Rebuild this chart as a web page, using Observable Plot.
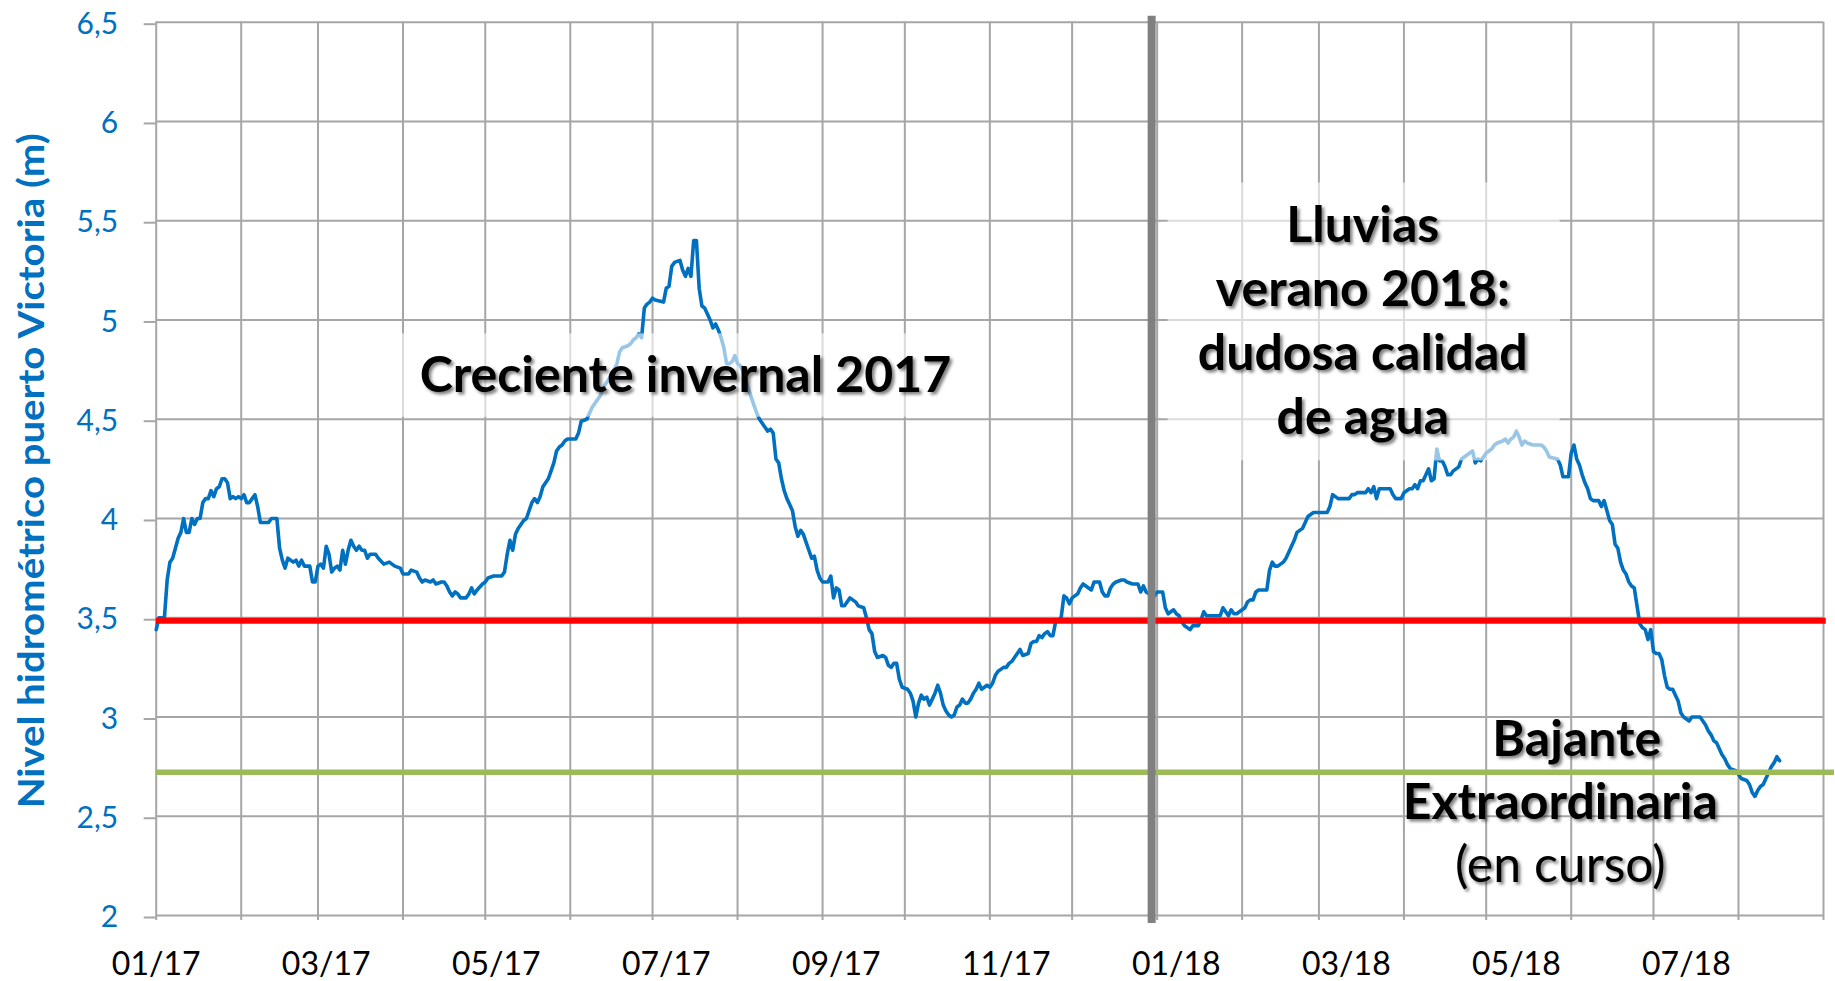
<!DOCTYPE html>
<html>
<head>
<meta charset="utf-8">
<script src="https://cdn.jsdelivr.net/npm/d3@7"></script>
<script src="https://cdn.jsdelivr.net/npm/@observablehq/plot@0.6"></script>
<style>
  html, body { margin: 0; padding: 0; background: #ffffff; }
  #chart svg { display: block; }
</style>
</head>
<body>
<div id="chart"></div>
<script>
// ---- Series: daily river level, Puerto Victoria (m) ----
const dates = [
"2017-01-01","2017-01-02","2017-01-04","2017-01-05","2017-01-06","2017-01-07","2017-01-08","2017-01-09","2017-01-10","2017-01-11",
"2017-01-12","2017-01-13","2017-01-14","2017-01-15","2017-01-16","2017-01-17","2017-01-18","2017-01-19","2017-01-20","2017-01-21",
"2017-01-22","2017-01-23","2017-01-24","2017-01-25","2017-01-26","2017-01-27","2017-01-28","2017-01-29","2017-01-30","2017-01-31",
"2017-02-01","2017-02-02","2017-02-03","2017-02-04","2017-02-05","2017-02-06","2017-02-07","2017-02-08","2017-02-11","2017-02-12",
"2017-02-14","2017-02-15","2017-02-16","2017-02-17","2017-02-18","2017-02-20","2017-02-21","2017-02-22","2017-02-23","2017-02-24",
"2017-02-26","2017-02-27","2017-02-28","2017-03-01","2017-03-02","2017-03-03","2017-03-04","2017-03-05","2017-03-06","2017-03-07",
"2017-03-08","2017-03-09","2017-03-10","2017-03-11","2017-03-12","2017-03-13","2017-03-14","2017-03-15","2017-03-16","2017-03-17",
"2017-03-18","2017-03-19","2017-03-20","2017-03-22","2017-03-23","2017-03-25","2017-03-27","2017-03-29","2017-03-31","2017-04-01",
"2017-04-03","2017-04-04","2017-04-06","2017-04-07","2017-04-08","2017-04-09","2017-04-11","2017-04-12","2017-04-13","2017-04-15",
"2017-04-16","2017-04-17","2017-04-18","2017-04-19","2017-04-20","2017-04-21","2017-04-22","2017-04-24","2017-04-25","2017-04-26",
"2017-04-27","2017-04-28","2017-04-30","2017-05-01","2017-05-02","2017-05-04","2017-05-07","2017-05-08","2017-05-09","2017-05-10",
"2017-05-11","2017-05-12","2017-05-13","2017-05-14","2017-05-15","2017-05-16","2017-05-17","2017-05-18","2017-05-19","2017-05-20",
"2017-05-21","2017-05-22","2017-05-23","2017-05-24","2017-05-25","2017-05-26","2017-05-27","2017-05-28","2017-05-29","2017-05-30",
"2017-05-31","2017-06-03","2017-06-04","2017-06-05","2017-06-07","2017-06-08","2017-06-09","2017-06-10","2017-06-11","2017-06-12",
"2017-06-13","2017-06-14","2017-06-15","2017-06-16","2017-06-17","2017-06-18","2017-06-19","2017-06-20","2017-06-22","2017-06-23",
"2017-06-24","2017-06-25","2017-06-26","2017-06-27","2017-06-28","2017-06-29","2017-06-30","2017-07-01","2017-07-02","2017-07-05",
"2017-07-06","2017-07-07","2017-07-08","2017-07-09","2017-07-11","2017-07-12","2017-07-13","2017-07-14","2017-07-15","2017-07-16",
"2017-07-17","2017-07-18","2017-07-19","2017-07-20","2017-07-21","2017-07-22","2017-07-23","2017-07-24","2017-07-25","2017-07-26",
"2017-07-27","2017-07-28","2017-07-29","2017-07-30","2017-07-31","2017-08-01","2017-08-02","2017-08-03","2017-08-04","2017-08-05",
"2017-08-06","2017-08-07","2017-08-08","2017-08-09","2017-08-10","2017-08-11","2017-08-12","2017-08-13","2017-08-14","2017-08-15",
"2017-08-16","2017-08-17","2017-08-18","2017-08-19","2017-08-20","2017-08-21","2017-08-22","2017-08-23","2017-08-24","2017-08-25",
"2017-08-26","2017-08-27","2017-08-28","2017-08-29","2017-08-30","2017-08-31","2017-09-01","2017-09-03","2017-09-04","2017-09-05",
"2017-09-06","2017-09-07","2017-09-08","2017-09-09","2017-09-10","2017-09-11","2017-09-12","2017-09-13","2017-09-14","2017-09-16",
"2017-09-17","2017-09-18","2017-09-19","2017-09-20","2017-09-21","2017-09-23","2017-09-24","2017-09-25","2017-09-26","2017-09-27",
"2017-09-28","2017-09-29","2017-09-30","2017-10-02","2017-10-03","2017-10-04","2017-10-05","2017-10-06","2017-10-07","2017-10-08",
"2017-10-09","2017-10-10","2017-10-11","2017-10-12","2017-10-13","2017-10-14","2017-10-15","2017-10-16","2017-10-17","2017-10-18",
"2017-10-19","2017-10-20","2017-10-21","2017-10-22","2017-10-23","2017-10-24","2017-10-25","2017-10-26","2017-10-27","2017-10-28",
"2017-10-29","2017-10-30","2017-10-31","2017-11-01","2017-11-02","2017-11-03","2017-11-04","2017-11-05","2017-11-06","2017-11-07",
"2017-11-08","2017-11-09","2017-11-10","2017-11-11","2017-11-12","2017-11-13","2017-11-15","2017-11-16","2017-11-17","2017-11-18",
"2017-11-19","2017-11-20","2017-11-21","2017-11-22","2017-11-23","2017-11-24","2017-11-25","2017-11-26","2017-11-27","2017-11-28",
"2017-11-29","2017-11-30","2017-12-01","2017-12-02","2017-12-03","2017-12-04","2017-12-05","2017-12-06","2017-12-07","2017-12-08",
"2017-12-09","2017-12-11","2017-12-12","2017-12-13","2017-12-14","2017-12-15","2017-12-16","2017-12-17","2017-12-19","2017-12-20",
"2017-12-21","2017-12-23","2017-12-25","2017-12-26","2017-12-27","2017-12-28","2017-12-29","2017-12-31","2018-01-01","2018-01-03",
"2018-01-04","2018-01-05","2018-01-06","2018-01-07","2018-01-08","2018-01-09","2018-01-10","2018-01-11","2018-01-12","2018-01-13",
"2018-01-14","2018-01-16","2018-01-17","2018-01-18","2018-01-19","2018-01-22","2018-01-24","2018-01-25","2018-01-26","2018-01-27",
"2018-01-28","2018-01-29","2018-01-30","2018-01-31","2018-02-02","2018-02-03","2018-02-04","2018-02-05","2018-02-06","2018-02-07",
"2018-02-10","2018-02-11","2018-02-12","2018-02-13","2018-02-14","2018-02-15","2018-02-16","2018-02-17","2018-02-18","2018-02-19",
"2018-02-20","2018-02-21","2018-02-22","2018-02-23","2018-02-24","2018-02-25","2018-02-26","2018-02-27","2018-03-04","2018-03-05",
"2018-03-06","2018-03-07","2018-03-08","2018-03-12","2018-03-13","2018-03-14","2018-03-15","2018-03-18","2018-03-19","2018-03-20",
"2018-03-21","2018-03-22","2018-03-23","2018-03-25","2018-03-27","2018-03-28","2018-03-29","2018-03-31","2018-04-01","2018-04-03",
"2018-04-04","2018-04-05","2018-04-06","2018-04-07","2018-04-08","2018-04-09","2018-04-10","2018-04-11","2018-04-12","2018-04-13",
"2018-04-14","2018-04-15","2018-04-16","2018-04-17","2018-04-18","2018-04-19","2018-04-20","2018-04-21","2018-04-22","2018-04-23",
"2018-04-24","2018-04-25","2018-04-26","2018-04-27","2018-04-28","2018-04-29","2018-04-30","2018-05-01","2018-05-02","2018-05-03",
"2018-05-04","2018-05-05","2018-05-07","2018-05-08","2018-05-09","2018-05-10","2018-05-11","2018-05-12","2018-05-13","2018-05-14",
"2018-05-15","2018-05-16","2018-05-18","2018-05-21","2018-05-22","2018-05-23","2018-05-24","2018-05-27","2018-05-28","2018-05-29",
"2018-05-31","2018-06-01","2018-06-02","2018-06-03","2018-06-04","2018-06-05","2018-06-06","2018-06-07","2018-06-08","2018-06-09",
"2018-06-11","2018-06-12","2018-06-13","2018-06-14","2018-06-15","2018-06-16","2018-06-17","2018-06-18","2018-06-19","2018-06-20",
"2018-06-21","2018-06-22","2018-06-23","2018-06-24","2018-06-25","2018-06-26","2018-06-27","2018-06-28","2018-06-29","2018-06-30",
"2018-07-01","2018-07-02","2018-07-03","2018-07-04","2018-07-05","2018-07-06","2018-07-07","2018-07-08","2018-07-09","2018-07-10",
"2018-07-11","2018-07-12","2018-07-14","2018-07-15","2018-07-18","2018-07-19","2018-07-20","2018-07-21","2018-07-22","2018-07-23",
"2018-07-24","2018-07-25","2018-07-26","2018-07-27","2018-07-28","2018-07-29","2018-07-31","2018-08-01","2018-08-02","2018-08-04",
"2018-08-05","2018-08-06","2018-08-07","2018-08-08","2018-08-09","2018-08-10","2018-08-11","2018-08-12","2018-08-13","2018-08-14",
"2018-08-15","2018-08-16"
];
const levels = [
3.44,3.50,3.50,3.69,3.78,3.80,3.85,3.90,3.93,4.00,
3.93,3.93,4.00,3.97,4.00,4.00,4.08,4.10,4.10,4.14,
4.11,4.15,4.16,4.20,4.20,4.18,4.10,4.11,4.10,4.11,
4.10,4.12,4.08,4.08,4.10,4.12,4.06,3.98,3.98,4.00,
4.00,3.85,3.79,3.75,3.80,3.78,3.79,3.76,3.79,3.76,
3.76,3.68,3.68,3.76,3.77,3.75,3.86,3.82,3.73,3.75,
3.76,3.74,3.84,3.77,3.84,3.89,3.86,3.84,3.86,3.84,
3.84,3.80,3.82,3.82,3.80,3.77,3.78,3.76,3.75,3.72,
3.72,3.74,3.73,3.70,3.68,3.69,3.68,3.69,3.67,3.68,
3.68,3.66,3.63,3.61,3.63,3.62,3.60,3.60,3.62,3.65,
3.62,3.64,3.67,3.68,3.70,3.71,3.71,3.73,3.82,3.89,
3.84,3.92,3.95,3.97,3.99,4.00,4.04,4.08,4.10,4.08,
4.11,4.16,4.18,4.20,4.24,4.28,4.34,4.36,4.37,4.39,
4.40,4.40,4.43,4.49,4.50,4.53,4.56,4.58,4.60,4.62,
4.66,4.68,4.70,4.73,4.75,4.78,4.84,4.86,4.87,4.88,
4.90,4.91,4.93,4.91,5.06,5.08,5.09,5.11,5.10,5.09,
5.16,5.17,5.27,5.29,5.30,5.25,5.22,5.26,5.22,5.40,
5.40,5.16,5.07,5.06,5.03,5.00,4.96,4.98,4.95,4.91,
4.86,4.78,4.78,4.79,4.82,4.78,4.77,4.74,4.70,4.65,
4.61,4.57,4.53,4.50,4.48,4.46,4.44,4.45,4.43,4.30,
4.28,4.20,4.14,4.10,4.07,4.04,3.96,3.91,3.94,3.92,
3.88,3.84,3.80,3.81,3.74,3.70,3.68,3.68,3.71,3.60,
3.65,3.64,3.56,3.56,3.58,3.60,3.59,3.58,3.56,3.55,
3.50,3.44,3.42,3.33,3.30,3.31,3.30,3.26,3.25,3.27,
3.27,3.19,3.15,3.14,3.12,3.08,3.00,3.07,3.11,3.09,
3.10,3.06,3.09,3.12,3.16,3.12,3.06,3.03,3.01,3.00,
3.01,3.05,3.06,3.09,3.07,3.07,3.09,3.12,3.14,3.17,
3.14,3.15,3.16,3.15,3.17,3.21,3.23,3.24,3.25,3.25,
3.27,3.28,3.30,3.32,3.34,3.31,3.32,3.37,3.38,3.38,
3.41,3.40,3.42,3.43,3.41,3.41,3.48,3.49,3.50,3.61,
3.60,3.57,3.60,3.61,3.62,3.65,3.67,3.66,3.65,3.64,
3.68,3.68,3.63,3.61,3.61,3.65,3.67,3.68,3.69,3.69,
3.68,3.67,3.67,3.63,3.66,3.63,3.62,3.61,3.63,3.63,
3.55,3.52,3.53,3.54,3.52,3.51,3.48,3.46,3.45,3.44,
3.46,3.46,3.49,3.53,3.51,3.51,3.51,3.55,3.53,3.51,
3.54,3.52,3.52,3.53,3.55,3.58,3.59,3.59,3.63,3.64,
3.64,3.74,3.78,3.76,3.76,3.77,3.78,3.80,3.83,3.86,
3.89,3.93,3.94,3.95,3.98,4.01,4.02,4.03,4.03,4.06,
4.12,4.11,4.10,4.10,4.12,4.12,4.13,4.13,4.15,4.13,
4.16,4.10,4.15,4.15,4.15,4.12,4.10,4.10,4.13,4.15,
4.15,4.17,4.15,4.19,4.19,4.22,4.25,4.19,4.20,4.35,
4.29,4.29,4.26,4.22,4.22,4.24,4.25,4.26,4.30,4.31,
4.32,4.33,4.34,4.28,4.30,4.29,4.31,4.33,4.34,4.35,
4.37,4.38,4.39,4.40,4.38,4.40,4.41,4.44,4.41,4.37,
4.39,4.38,4.37,4.37,4.36,4.34,4.31,4.30,4.27,4.21,
4.21,4.33,4.37,4.30,4.27,4.22,4.18,4.15,4.10,4.09,
4.09,4.06,4.09,4.04,3.99,3.97,3.87,3.85,3.78,3.74,
3.72,3.68,3.66,3.65,3.56,3.47,3.45,3.44,3.39,3.44,
3.33,3.32,3.32,3.29,3.21,3.15,3.14,3.14,3.11,3.08,
3.02,3.00,2.98,3.00,3.00,2.98,2.96,2.93,2.91,2.88,
2.87,2.84,2.81,2.79,2.76,2.74,2.73,2.71,2.69,2.68,
2.66,2.62,2.60,2.63,2.65,2.66,2.69,2.72,2.75,2.77,
2.80,2.78
];

// ---- Axes ----
const xDomain = ["2017-01-01", "2018-09-01"];
const xTickDates = ["2017-01-01","2017-03-04","2017-05-05","2017-07-06","2017-09-06","2017-11-07","2018-01-08","2018-03-11","2018-05-12","2018-07-13"];
const xTickLabels = ["01/17","03/17","05/17","07/17","09/17","11/17","01/18","03/18","05/18","07/18"];
const yTicks = [2, 2.5, 3, 3.5, 4, 4.5, 5, 5.5, 6, 6.5];
const yTickLabels = ["2","2,5","3","3,5","4","4,5","5","5,5","6","6,5"];
const yTitle = "Nivel hidrométrico puerto Victoria (m)";

// ---- Reference lines ----
const redLevel = [3.485];
const redSpan = ["2017-01-01", "2018-09-02"];
const greenLevel = [2.722];
const greenSpan = ["2017-01-01", "2018-09-05"];
const dividerDate = ["2017-12-30"];
const dividerSpan = [1.96, 6.53];

// ---- Annotations ----
const annoTexts = ["Creciente invernal 2017", "Lluvias\nverano 2018:\ndudosa calidad\nde agua", "Bajante", "Extraordinaria"];
const annoDates = ["2017-07-13", "2018-03-17", "2018-06-03", "2018-05-28"];
const annoLevels = [4.636, 4.427, 2.806, 2.487];
const noteText = ["(en curso)"];
const noteDate = ["2018-05-28"];
const noteLevel = [2.168];
// translucent text boxes behind the annotations
const boxX1 = ["2017-03-29", "2018-01-05"];
const boxX2 = ["2017-10-23", "2018-05-28"];
const boxY1 = [4.51, 4.29];
const boxY2 = [4.93, 5.69];

const parse = s => new Date(s);
const series = dates.map((d, i) => ({date: parse(d), level: levels[i]}));
const monthStarts = d3.utcMonth.range(parse(xDomain[0]), d3.utcDay.offset(parse(xDomain[1]), 1));
const xLabelMap = new Map(xTickDates.map((d, i) => [+parse(d), xTickLabels[i]]));
const yLabelMap = new Map(yTicks.map((v, i) => [v, yTickLabels[i]]));
const annos = annoTexts.map((t, i) => ({text: t, date: parse(annoDates[i]), level: annoLevels[i]}));
const boxes = boxX1.map((d, i) => ({x1: parse(d), x2: parse(boxX2[i]), y1: boxY1[i], y2: boxY2[i]}));

const GRID = "#a6a6a6";
const BLUE = "#0070C0";
const ANNO_SIZE = 50;

const chart = Plot.plot({
  width: 1835,
  height: 981,
  marginLeft: 155.7,
  marginRight: 12,
  marginTop: 21.7,
  marginBottom: 66,
  style: {fontFamily: "Lato, sans-serif", background: "#ffffff", overflow: "visible"},
  x: {type: "utc", domain: xDomain.map(parse)},
  y: {domain: [2, 6.5]},
  marks: [
    Plot.gridY(yTicks, {stroke: GRID, strokeOpacity: 1, strokeWidth: 2}),
    Plot.ruleX(monthStarts, {y1: 1.975, y2: 6.5, stroke: GRID, strokeWidth: 2}),
    Plot.axisY({ticks: yTicks, tickSize: 12, tickPadding: 26, stroke: GRID, strokeWidth: 2,
      fill: BLUE, fontSize: 30, dy: 2, tickFormat: v => yLabelMap.get(v)}),
    Plot.axisX({ticks: xTickDates.map(parse), tickSize: 0, tickPadding: 37, fill: "#000",
      fontSize: 32, tickFormat: d => xLabelMap.get(+d)}),
    Plot.line(series, {x: "date", y: "level", stroke: BLUE, strokeWidth: 3.6}),
    Plot.ruleY(redLevel, {x1: parse(redSpan[0]), x2: parse(redSpan[1]), stroke: "#ff0000", strokeWidth: 6}),
    Plot.ruleY(greenLevel, {x1: parse(greenSpan[0]), x2: parse(greenSpan[1]), stroke: "#9bbb59", strokeWidth: 5.5}),
    Plot.ruleX(dividerDate.map(parse), {y1: dividerSpan[0], y2: dividerSpan[1], stroke: "#808080", strokeWidth: 8}),
    Plot.rect(boxes, {x1: "x1", x2: "x2", y1: "y1", y2: "y2", fill: "#ffffff", fillOpacity: 0.6}),
    Plot.text(annos, {x: "date", y: "level", text: "text", fontSize: ANNO_SIZE, fontWeight: "bold",
      lineAnchor: "bottom", lineHeight: 64 / ANNO_SIZE, textAnchor: "middle", fill: "#000"}),
    Plot.text(noteText, {x: noteDate.map(parse), y: noteLevel, text: d => d, fontSize: ANNO_SIZE,
      lineAnchor: "bottom", textAnchor: "middle", fill: "#000"}),
    Plot.text([yTitle], {frameAnchor: "left", dx: -123.7, dy: 2, rotate: -90, text: d => d,
      fontSize: 37, fontWeight: "bold", fill: BLUE, textAnchor: "middle", lineAnchor: "middle"})
  ]
});

const svg = d3.select(chart);
svg.insert("defs", ":first-child").html(
  '<filter id="txtShadow" x="-10%" y="-20%" width="130%" height="150%">' +
  '<feDropShadow dx="2.5" dy="2.5" stdDeviation="1.8" flood-color="#000" flood-opacity="0.5"/></filter>');

// find text elements by their content
const annoKeys = new Set(annoTexts.concat(noteText).map(t => t.replace(/\n/g, "")));
svg.selectAll("text")
  .filter(function() { return annoKeys.has(this.textContent); })
  .attr("filter", "url(#txtShadow)");
// the original title is set in a narrow face: fit it to its measured length
svg.selectAll("text")
  .filter(function() { return this.textContent === yTitle; })
  .each(function() {
    const spans = this.querySelectorAll("tspan");
    const targets = spans.length ? Array.from(spans) : [this];
    targets.forEach(el => {
      el.setAttribute("textLength", "675");
      el.setAttribute("lengthAdjust", "spacingAndGlyphs");
    });
  });

document.getElementById("chart").appendChild(chart);
</script>
</body>
</html>
